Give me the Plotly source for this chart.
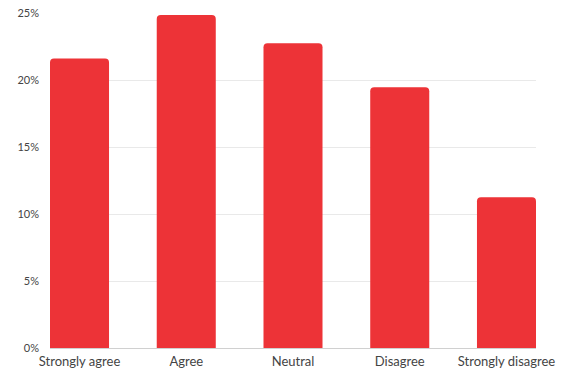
import plotly.graph_objects as go

categories = ["Strongly agree", "Agree", "Neutral", "Disagree", "Strongly disagree"]
shares = [21.6, 24.85, 22.75, 19.45, 11.25]
tick_values = [0, 5, 10, 15, 20, 25]
tick_labels = ["0%", "5%", "10%", "15%", "20%", "25%"]

bar_width = 0.553
font_family = "Lato, 'Open Sans', sans-serif"

fig = go.Figure(
    go.Bar(
        x=list(range(len(categories))),
        y=shares,
        width=bar_width,
        marker=dict(color="#ED3337", cornerradius=4, line=dict(width=0)),
        hoverinfo="skip",
    )
)

fig.update_layout(
    width=569,
    height=372,
    margin=dict(l=50, r=33, t=13, b=24),
    paper_bgcolor="white",
    plot_bgcolor="white",
    showlegend=False,
    font=dict(family=font_family, size=11, color="#444444"),
)

fig.update_xaxes(
    tickmode="array",
    tickvals=list(range(len(categories))),
    ticktext=categories,
    range=[-bar_width / 2, len(categories) - 1 + bar_width / 2],
    showgrid=False,
    zeroline=False,
    showline=False,
    ticks="",
    tickfont=dict(size=13, color="#444444"),
    ticklabelstandoff=4,
    automargin=False,
)

fig.update_yaxes(
    tickmode="array",
    tickvals=tick_values,
    ticktext=tick_labels,
    range=[0, 25],
    showgrid=True,
    gridcolor="#e9e9e9",
    gridwidth=1,
    zeroline=True,
    zerolinecolor="#d0d0d0",
    zerolinewidth=1,
    showline=False,
    ticks="",
    tickfont=dict(size=11, color="#444444"),
    ticklabelstandoff=10,
    automargin=False,
)

fig.write_html("out.html")
